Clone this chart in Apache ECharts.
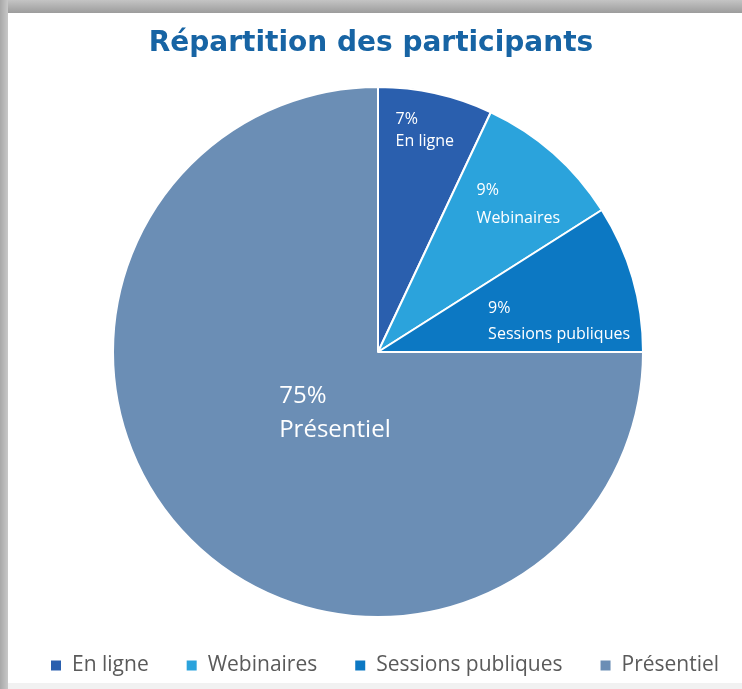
<!DOCTYPE html>
<html>
<head>
<meta charset="utf-8">
<script src="https://cdn.jsdelivr.net/npm/echarts@6/dist/echarts.min.js"></script>
<style>
  html, body { margin: 0; padding: 0; background: #fff; }
  #frameTop { position: absolute; left: 0; top: 0; width: 742px; height: 13px;
    background: linear-gradient(#c4c4c4, #9c9c9c); }
  #frameLeft { position: absolute; left: 0; top: 0; width: 8px; height: 689px;
    background: linear-gradient(90deg, #a8a8a8, #c8c8c8); }
  #frameBottom { position: absolute; left: 0; top: 683px; width: 742px; height: 6px;
    background: #f1f1f1; }
  #chart { position: absolute; left: 0; top: 0; width: 742px; height: 689px; }
</style>
</head>
<body>
<div id="frameBottom"></div>
<div id="frameTop"></div>
<div id="frameLeft"></div>
<div id="chart"></div>
<script>
// données (%)
var categories = ['En ligne', 'Webinaires', 'Sessions publiques', 'Présentiel']
var shares = [7, 9, 9, 75]

var colors = ['#2a5fae', '#2ba3dc', '#0c78c3', '#6b8eb5']
// décalage des étiquettes par rapport à la position "inside" par défaut
var labelShift = [[-12, -89], [9, -46], [-20, 7], [-3, -35]]
var labelLine = [22, 28, 26, 34]
var labelSize = [16, 16, 16, 24]

var myChart = echarts.init(document.getElementById('chart'))

var pieData = categories.map(function (name, i) {
  return {
    name: name,
    value: shares[i],
    itemStyle: { color: colors[i] },
    label: { fontSize: labelSize[i], lineHeight: labelLine[i] }
  }
})

var option = {
  animation: false,
  title: {
    text: 'Répartition des participants',
    left: 'center',
    top: 25,
    textStyle: {
      fontFamily: 'DejaVu Sans',
      fontWeight: 'bold',
      fontSize: 28,
      color: '#1764a4'
    }
  },
  legend: {
    data: categories,
    left: 44,
    top: 650,
    itemGap: 36,
    itemWidth: 12,
    itemHeight: 12,
    icon: 'rect',
    textStyle: {
      fontFamily: 'Open Sans',
      fontSize: 21,
      color: '#5a5a5a',
      padding: [0, 0, 0, 5]
    }
  },
  series: [
    {
      type: 'pie',
      center: [378, 352],
      radius: 265,
      startAngle: 90,
      clockwise: true,
      itemStyle: {
        borderColor: '#fff',
        borderWidth: 2
      },
      label: {
        show: true,
        position: 'inside',
        color: '#fff',
        fontFamily: 'Open Sans',
        formatter: function (p) {
          return p.value + '%\n' + p.name
        }
      },
      labelLine: { show: false },
      labelLayout: function (params) {
        var s = labelShift[params.dataIndex]
        return { align: 'left', verticalAlign: 'middle', dx: s[0], dy: s[1] }
      },
      data: pieData
    }
  ]
}

myChart.setOption(option)
</script>
</body>
</html>
